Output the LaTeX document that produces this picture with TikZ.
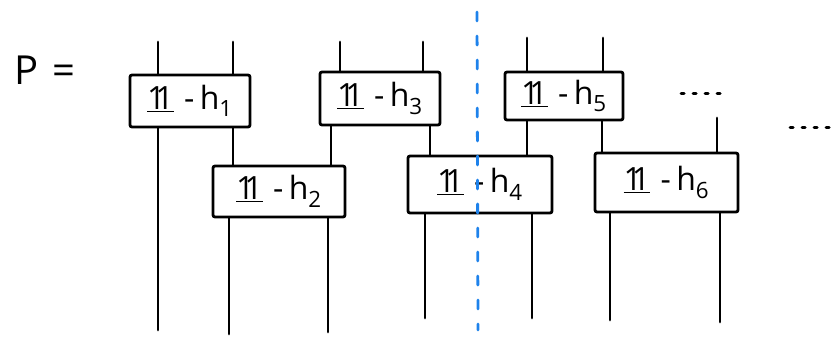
\documentclass[tikz,border=0pt]{standalone}
\usepackage{fontspec}
\setmainfont{Open Sans}
\definecolor{cutblue}{RGB}{30,130,235}
\tikzset{
  gate/.style={draw, line width=2.8pt, rounded corners=2pt, inner sep=0pt,
    font=\fontsize{32}{36}\selectfont},
  wire/.style={line width=2.8pt, line cap=round},
  cut/.style={draw=cutblue, line width=2.8pt, line cap=round, dash pattern=on 9pt off 15pt},
  dots/.style={line width=3pt, line cap=round, dash pattern=on 3pt off 9pt}
}
\newcommand{\unitone}{\underline{1\kern-0.32em1}}
\newcommand{\gl}[1]{\unitone\,\,-\,h\textsubscript{#1}}
\begin{document}
\begin{tikzpicture}[x=1pt,y=-1pt]
\useasboundingbox (0,0) rectangle (835,340);
\node[font=\fontsize{40}{44}\selectfont] (P) at (45,70) {P\,\,=};
% gates
\node[gate, minimum width=120pt, minimum height=52pt] (g1) at (190,101) {\gl{1}};
\node[gate, minimum width=132pt, minimum height=51pt] (g2) at (279,191.5) {\gl{2}};
\node[gate, minimum width=120pt, minimum height=53pt] (g3) at (380,98.5) {\gl{3}};
\node[gate, minimum width=144pt, minimum height=57pt] (g4) at (480,184.5) {\gl{4}};
\node[gate, minimum width=118pt, minimum height=48pt] (g5) at (564,96) {\gl{5}};
\node[gate, minimum width=143pt, minimum height=59pt] (g6) at (666.5,182.5) {\gl{6}};
% free wire ends
\coordinate (a1) at (158,42);
\coordinate (a2) at (233,42);
\coordinate (a3) at (340,42);
\coordinate (a4) at (423,42);
\coordinate (a5) at (527,38);
\coordinate (a6) at (603,38);
\coordinate (a7) at (717,118);
\coordinate (z1) at (158,330);
\coordinate (z2) at (229,334);
\coordinate (z3) at (328,332);
\coordinate (z4) at (425,318);
\coordinate (z5) at (532,318);
\coordinate (z6) at (610,320);
\coordinate (z7) at (720,322);
% internal wire positions
\coordinate (m12) at (233,0);
\coordinate (m32) at (331,0);
\coordinate (m34) at (430,0);
\coordinate (m54) at (527,0);
\coordinate (m56) at (602,0);
% wires
\draw[wire] (a1) -- (a1 |- g1.north);
\draw[wire] (a2) -- (a2 |- g1.north);
\draw[wire] (a3) -- (a3 |- g3.north);
\draw[wire] (a4) -- (a4 |- g3.north);
\draw[wire] (a5) -- (a5 |- g5.north);
\draw[wire] (a6) -- (a6 |- g5.north);
\draw[wire] (a7) -- (a7 |- g6.north);
\draw[wire] (z1 |- g1.south) -- (z1);
\draw[wire] (z2 |- g2.south) -- (z2);
\draw[wire] (z3 |- g2.south) -- (z3);
\draw[wire] (z4 |- g4.south) -- (z4);
\draw[wire] (z5 |- g4.south) -- (z5);
\draw[wire] (z6 |- g6.south) -- (z6);
\draw[wire] (z7 |- g6.south) -- (z7);
\draw[wire] (m12 |- g1.south) -- (m12 |- g2.north);
\draw[wire] (m32 |- g3.south) -- (m32 |- g2.north);
\draw[wire] (m34 |- g3.south) -- (m34 |- g4.north);
\draw[wire] (m54 |- g5.south) -- (m54 |- g4.north);
\draw[wire] (m56 |- g5.south) -- (m56 |- g6.north);
% continuation dots
\coordinate (d1) at (681,93);
\coordinate (d2) at (722,93);
\coordinate (d3) at (790,127);
\coordinate (d4) at (834,127);
\draw[dots] (d1) -- (d2);
\draw[dots] (d3) -- (d4);
% cut
\coordinate (c1) at (477,12);
\coordinate (c2) at (478,330);
\draw[cut] (c1) -- (c2);
\end{tikzpicture}
\end{document}
